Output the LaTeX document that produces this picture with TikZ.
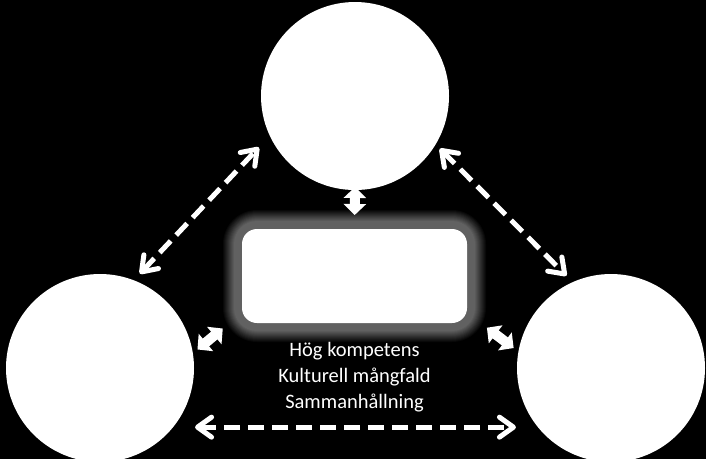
\documentclass[tikz,border=0pt]{standalone}
\usepackage{fontspec}
\setmainfont{Carlito}
\usetikzlibrary{arrows.meta,positioning,calc,backgrounds}

\begin{document}
\begin{tikzpicture}[x=1pt,y=-1pt,
  ball/.style={circle,fill=white,minimum size=188pt,inner sep=0pt,outer sep=0pt},
  dasharrow/.style={white,line width=5pt,dash pattern=on 16pt off 8pt,
    {Straight Barb[round,length=14pt,width=20pt]}-{Straight Barb[round,length=14pt,width=20pt]}},
  blockarrow/.style={white,line width=10pt,
    {Triangle[length=11pt,width=22pt]}-{Triangle[length=11pt,width=22pt]}}]
\useasboundingbox (0,0) rectangle (706,459);
\node[ball] (ntop) at (355,96) {};
\node[ball] (nleft) at (100,368) {};
\node[ball] (nright) at (611,368) {};
\node[fill=white,rounded corners=15pt,minimum width=225pt,minimum height=94pt,inner sep=0pt,outer sep=0pt] (nbox) at (354.5,276) {};
\node[white,font=\fontsize{20.5}{26}\selectfont,align=center,inner sep=0pt,below=19pt of nbox] (ntext) {Hög kompetens\\Kulturell mångfald\\Sammanhållning};
% dashed links between the circles
\draw[dasharrow,shorten <=9pt,shorten >=16pt] (nleft.69) -- (ntop.205);
\draw[dasharrow,shorten <=6pt,shorten >=9pt] (ntop.-31) -- (nright.114);
\draw[dasharrow,shorten <=22pt,shorten >=22pt] (nleft.-39) -- (nright.-141);
% short links to the box
\draw[blockarrow,shorten <=-3pt,shorten >=14pt] (ntop.south) -- (nbox.north);
\draw[blockarrow,shorten <=6pt,shorten >=25pt] (nleft.9.5) -- (nbox.198);
\draw[blockarrow,shorten <=6pt,shorten >=25pt] (nright.170.5) -- (nbox.-18);
\begin{scope}[on background layer]
\fill[black] (0,0) rectangle (706,459);
\foreach \i in {20,...,1}{
  \pgfmathsetmacro\g{min(38,38*(20-\i)/12)}
  \pgfmathsetmacro\rr{15+\i}
  \fill[white!\g!black,rounded corners=\rr pt] ($(nbox.south west)+(-\i pt,-\i pt)$) rectangle ($(nbox.north east)+(\i pt,\i pt)$);
}
\end{scope}
\end{tikzpicture}
\end{document}
